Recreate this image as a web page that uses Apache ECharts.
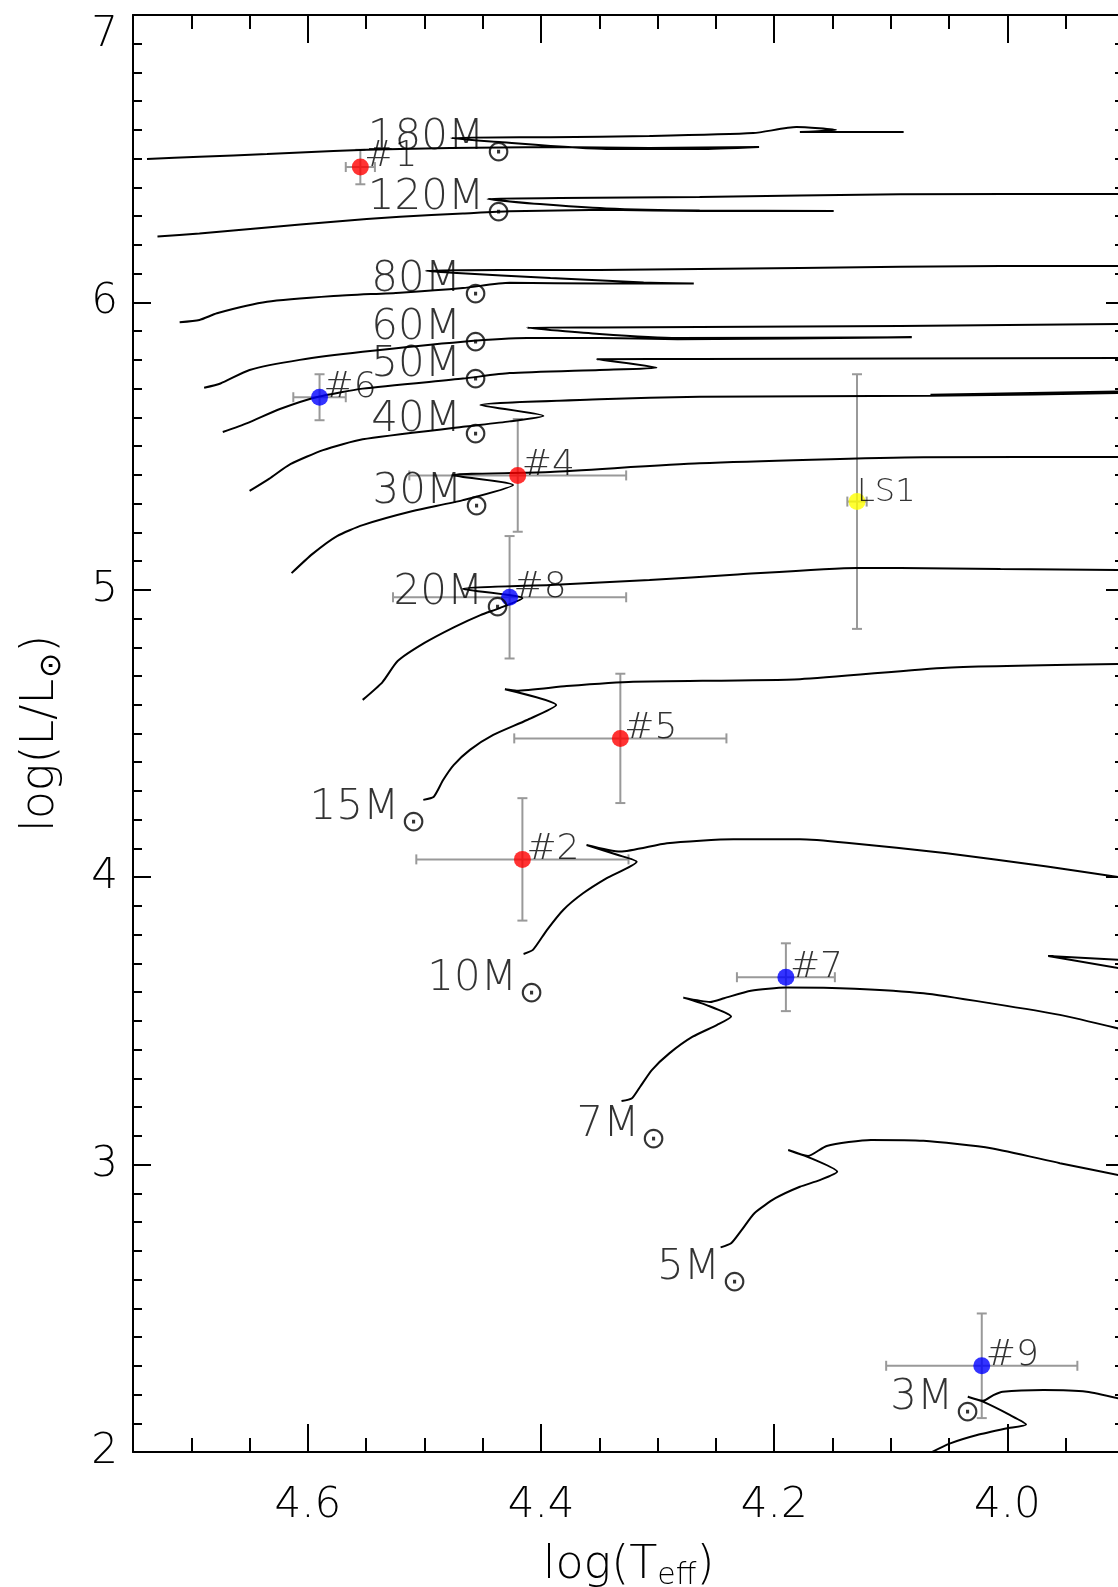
<!DOCTYPE html>
<html>
<head>
<meta charset="utf-8">
<script src="https://cdn.jsdelivr.net/npm/echarts@6/dist/echarts.min.js"></script>
<style>
html,body{margin:0;padding:0;background:#fff;}
#chart{width:1118px;height:1587px;}
</style>
</head>
<body>
<div id="chart"></div>
<script>
// ---------------- DATA (log Teff, log L/Lsun) ----------------
const track180 = [[4.738,6.499],[4.693,6.507],[4.635,6.516],[4.578,6.527],[4.521,6.534],[4.478,6.537],[4.392,6.541],[4.307,6.537],[4.213,6.541],[4.264,6.534],[4.344,6.534],[4.436,6.558],[4.477,6.572],[4.392,6.575],[4.307,6.579],[4.218,6.589],[4.181,6.610],[4.147,6.600],[4.178,6.593],[4.089,6.593]];
const track120 = [[4.729,6.229],[4.693,6.240],[4.635,6.261],[4.578,6.281],[4.521,6.298],[4.467,6.309],[4.427,6.317],[4.344,6.322],[4.264,6.318],[4.149,6.318],[4.264,6.320],[4.344,6.327],[4.401,6.342],[4.446,6.360],[4.384,6.363],[4.264,6.367],[4.092,6.376],[3.899,6.377]];
const track80 = [[4.710,5.931],[4.693,5.939],[4.678,5.962],[4.635,6.002],[4.578,6.022],[4.521,6.034],[4.467,6.050],[4.427,6.068],[4.350,6.066],[4.269,6.066],[4.312,6.069],[4.392,6.085],[4.476,6.103],[4.499,6.110],[4.435,6.113],[4.350,6.113],[4.178,6.120],[4.006,6.127],[3.899,6.127]];
const track60 = [[4.689,5.703],[4.675,5.718],[4.650,5.765],[4.607,5.800],[4.553,5.828],[4.467,5.863],[4.412,5.876],[4.350,5.876],[4.283,5.872],[4.082,5.879],[4.283,5.876],[4.350,5.890],[4.412,5.912],[4.350,5.913],[4.264,5.914],[4.092,5.918],[3.899,5.925]];
const track50 = [[4.673,5.549],[4.652,5.580],[4.624,5.629],[4.592,5.671],[4.553,5.700],[4.467,5.735],[4.427,5.754],[4.350,5.765],[4.301,5.773],[4.352,5.802],[4.264,5.803],[4.092,5.805],[3.899,5.807]];
const track40 = [[4.650,5.344],[4.633,5.387],[4.615,5.437],[4.587,5.486],[4.553,5.524],[4.467,5.567],[4.427,5.586],[4.398,5.605],[4.452,5.643],[4.350,5.663],[4.264,5.672],[4.066,5.675],[3.880,5.686],[4.066,5.679],[3.880,5.692]];
const track30 = [[4.614,5.058],[4.596,5.125],[4.575,5.187],[4.553,5.225],[4.510,5.274],[4.467,5.312],[4.424,5.365],[4.476,5.399],[4.392,5.410],[4.264,5.440],[4.072,5.461],[3.899,5.462]];
const track20 = [[4.553,4.617],[4.536,4.679],[4.523,4.752],[4.500,4.815],[4.474,4.871],[4.452,4.912],[4.435,4.937],[4.416,4.971],[4.467,5.003],[4.392,5.017],[4.307,5.034],[4.235,5.052],[4.129,5.076],[4.092,5.076],[4.006,5.072],[3.899,5.069]];
const track15 = [[4.501,4.269],[4.492,4.280],[4.484,4.338],[4.475,4.390],[4.461,4.443],[4.441,4.495],[4.412,4.547],[4.387,4.599],[4.431,4.654],[4.421,4.649],[4.378,4.665],[4.321,4.680],[4.178,4.689],[4.052,4.729],[3.899,4.742]];
const track10 = [[4.415,3.733],[4.407,3.747],[4.395,3.816],[4.381,3.886],[4.364,3.944],[4.344,3.996],[4.318,4.054],[4.334,4.077],[4.361,4.112],[4.332,4.089],[4.292,4.118],[4.235,4.132],[4.178,4.132],[4.138,4.120],[4.052,4.083],[3.966,4.037],[3.899,3.997]];
const track7 = [[4.331,3.221],[4.322,3.231],[4.315,3.271],[4.305,3.329],[4.290,3.387],[4.270,3.445],[4.249,3.486],[4.237,3.515],[4.258,3.555],[4.278,3.581],[4.255,3.566],[4.243,3.579],[4.220,3.605],[4.190,3.616],[4.131,3.612],[4.072,3.596],[4.014,3.561],[3.955,3.521],[3.899,3.468]];
const track7Loop = [[3.899,3.711],[3.965,3.726],[3.899,3.680]];
const track5 = [[4.246,2.712],[4.237,2.726],[4.228,2.772],[4.217,2.831],[4.199,2.883],[4.178,2.923],[4.161,2.946],[4.146,2.975],[4.172,3.028],[4.188,3.051],[4.171,3.030],[4.155,3.065],[4.117,3.086],[4.072,3.083],[4.014,3.057],[3.955,3.005],[3.899,2.959]];
const track3 = [[4.079,1.966],[4.064,2.001],[4.049,2.030],[4.026,2.059],[4.001,2.082],[3.984,2.096],[3.998,2.129],[4.021,2.175],[4.034,2.192],[4.021,2.178],[4.012,2.198],[4.004,2.210],[3.969,2.216],[3.932,2.210],[3.899,2.181]];

// mass labels (text anchor: left / baseline)
const massNames  = ['180','120','80','60','50','40','30','20','15','10','7','5','3'];
const massLabelT = [4.546,4.546,4.543,4.543,4.543,4.543,4.542,4.524,4.596,4.495,4.367,4.298,4.098];
const massLabelL = [6.530,6.322,6.037,5.869,5.741,5.550,5.299,4.947,4.199,3.602,3.097,2.598,2.146];

// observed stars
const starNames = ['#1','#2','#4','#5','#6','#7','#8','#9','LS1'];
const starLogT  = [4.555,4.416,4.420,4.332,4.590,4.190,4.427,4.022,4.129];
const starLogL  = [6.471,4.062,5.398,4.483,5.670,3.652,4.974,2.300,5.307];
const starErrT  = [0.0125,0.091,0.093,0.091,0.0225,0.042,0.100,0.082,0.0083];
const starErrL  = [0.060,0.213,0.196,0.225,0.080,0.118,0.213,0.182,0.443];
const starGroup = ['A','A','A','A','B','B','B','B','C'];

// ticks
const xMajorTicks = [4.0,4.2,4.4,4.6];
const xMinorTicks = [3.95,4.05,4.10,4.15,4.25,4.30,4.35,4.45,4.50,4.55,4.65,4.70];
const yMajorTicks = [2,3,4,5,6,7];
const yMinorTicks = [2.1,2.2,2.3,2.4,2.5,2.6,2.7,2.8,2.9,3.1,3.2,3.3,3.4,3.5,3.6,3.7,3.8,3.9,4.1,4.2,4.3,4.4,4.5,4.6,4.7,4.8,4.9,5.1,5.2,5.3,5.4,5.5,5.6,5.7,5.8,5.9,6.1,6.2,6.3,6.4,6.5,6.6,6.7,6.8,6.9];

// ---------------- CHART ----------------
const FONT = 'DejaVu Sans';
const FW = 200;
const txt = {fontFamily: FONT, fontWeight: FW, color: '#000'};
const groupColor = {A: '#ff0000', B: '#0000ff', C: '#ffff00'};
const XMIN = 3.9, XMAX = 4.75, YMIN = 2, YMAX = 7;

function xAx(pos, major, showLine) {
  return {
    type: 'value', min: XMIN, max: XMAX, inverse: true, position: pos,
    splitLine: {show: false},
    axisLine: {show: showLine, onZero: false, lineStyle: {color: '#000', width: 2}},
    axisTick: {show: true, inside: true, length: major ? 28 : 14,
               customValues: major ? xMajorTicks : xMinorTicks,
               lineStyle: {color: '#000', width: 2}},
    axisLabel: {show: false}
  };
}
function yAx(pos, major, showLine) {
  return {
    type: 'value', min: YMIN, max: YMAX, position: pos,
    splitLine: {show: false},
    axisLine: {show: showLine, onZero: false, lineStyle: {color: '#000', width: 2}},
    axisTick: {show: true, inside: true, length: major ? 18 : 9,
               customValues: major ? yMajorTicks : yMinorTicks,
               lineStyle: {color: '#000', width: 2}},
    axisLabel: {show: false}
  };
}

const xAxes = [xAx('bottom', true, true), xAx('bottom', false, false), xAx('top', true, true), xAx('top', false, false)];
Object.assign(xAxes[0], {
  axisLabel: {show: true, customValues: xMajorTicks, formatter: v => v.toFixed(1),
              margin: 33, fontSize: 42, ...txt},
  name: '{n|log(T}{e|eff}{n|)}', nameLocation: 'middle', nameGap: 91, nameMoveOverlap: false,
  nameTextStyle: {rich: {
    n: {fontSize: 46, verticalAlign: 'top', ...txt},
    e: {fontSize: 30, verticalAlign: 'top', padding: [18, 0, 0, 0], ...txt}
  }}
});
const yAxes = [yAx('left', true, true), yAx('left', false, false), yAx('right', true, true), yAx('right', false, false)];
Object.assign(yAxes[0], {
  axisLabel: {show: true, customValues: yMajorTicks,
              formatter: v => (v === 7 ? '{t|7}' : String(v)),
              margin: 15, fontSize: 42, ...txt,
              rich: {t: {fontSize: 42, padding: [40, 0, 0, 0], ...txt}}},
  name: '{n|log(L/L}{s|⊙}{n|)}', nameLocation: 'middle', nameGap: 66, nameRotate: 90,
  nameMoveOverlap: false,
  nameTextStyle: {rich: {
    n: {fontSize: 46, verticalAlign: 'top', ...txt},
    s: {fontSize: 30, verticalAlign: 'top', padding: [19, 0, 0, 1], ...txt}
  }}
});

const tracks = [track180, track120, track80, track60, track50, track40, track30, track20, track15, track10, track7, track7Loop, track5, track3];
const trackSeries = tracks.map(d => ({
  type: 'line', data: d, xAxisIndex: 0, yAxisIndex: 0,
  showSymbol: false, symbol: 'none', smooth: 0.2, clip: true, z: 3,
  lineStyle: {color: '#000', width: 2}, silent: true
}));

const errSeries = {
  type: 'custom', xAxisIndex: 0, yAxisIndex: 0, z: 2, silent: true,
  data: starNames.map((n, i) => [starLogT[i], starLogL[i], starErrT[i], starErrL[i]]),
  encode: {x: 0, y: 1},
  renderItem: function (params, api) {
    const t = api.value(0), l = api.value(1), et = api.value(2), el = api.value(3);
    const c = api.coord([t, l]);
    const xa = api.coord([t + et, l])[0], xb = api.coord([t - et, l])[0];
    const ya = api.coord([t, l + el])[1], yb = api.coord([t, l - el])[1];
    const cap = 5;
    const st = {stroke: '#999999', lineWidth: 2};
    const L = (x1, y1, x2, y2) => ({type: 'line', shape: {x1, y1, x2, y2}, style: st});
    return {type: 'group', children: [
      L(xa, c[1], xb, c[1]), L(xa, c[1] - cap, xa, c[1] + cap), L(xb, c[1] - cap, xb, c[1] + cap),
      L(c[0], ya, c[0], yb), L(c[0] - cap, ya, c[0] + cap, ya), L(c[0] - cap, yb, c[0] + cap, yb)
    ]};
  }
};

const starSeries = {
  type: 'scatter', xAxisIndex: 0, yAxisIndex: 0, z: 4, symbol: 'circle', symbolSize: 17,
  data: starNames.map((n, i) => ({
    name: n, value: [starLogT[i], starLogL[i]],
    itemStyle: {color: groupColor[starGroup[i]]},
    label: n === 'LS1' ? {offset: [0, -9], fontSize: 32} : {}
  })),
  label: {show: true, formatter: '{b}', position: ['50%', '50%'], align: 'left',
          verticalAlign: 'middle', offset: [4, -10], fontSize: 36, ...txt}
};

const massSeries = {
  type: 'scatter', xAxisIndex: 0, yAxisIndex: 0, z: 5, symbol: 'circle', symbolSize: 1,
  itemStyle: {color: 'rgba(0,0,0,0)'}, silent: true,
  data: massNames.map((n, i) => ({name: n, value: [massLabelT[i], massLabelL[i]]})),
  label: {show: true, formatter: p => '{m|' + p.name + 'M}{s|⊙}',
          position: ['50%', '50%'], align: 'left', verticalAlign: 'top', offset: [-3, -33],
          rich: {
            m: {fontSize: 42, verticalAlign: 'top', ...txt},
            s: {fontSize: 30, verticalAlign: 'top', padding: [21, 0, 0, 2], ...txt}
          }}
};

const chart = echarts.init(document.getElementById('chart'), null, {renderer: 'canvas'});
chart.setOption({
  animation: false,
  backgroundColor: '#ffffff',
  grid: {left: 133, top: 15, right: -6, bottom: 135, outerBoundsMode: 'none', containLabel: false},
  xAxis: xAxes,
  yAxis: yAxes,
  series: [errSeries, ...trackSeries, starSeries, massSeries]
});
</script>
</body>
</html>
